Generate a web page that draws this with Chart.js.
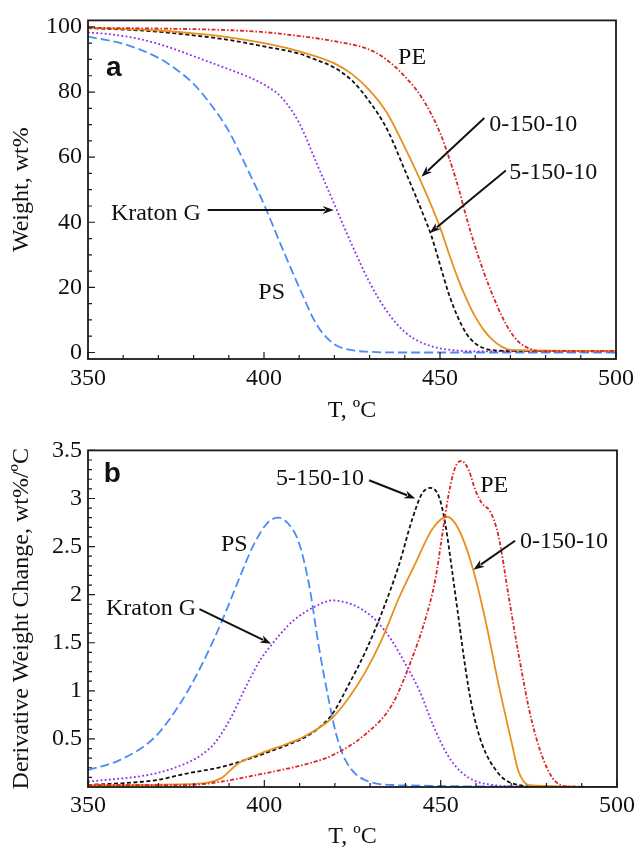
<!DOCTYPE html>
<html>
<head>
<meta charset="utf-8">
<script src="https://cdn.jsdelivr.net/npm/chart.js@4.4.1/dist/chart.umd.min.js"></script>
<style>
  body { margin: 0; background: #fff; }
  canvas { display: block; }
</style>
</head>
<body>
<canvas id="weightChart" width="639" height="430"></canvas>
<canvas id="rateChart" width="639" height="421"></canvas>
<script>
// --- tick labels ---
const tempTicks = [350, 400, 450, 500];
const weightTicks = [0, 20, 40, 60, 80, 100];
const rateTicks = [0.5, 1, 1.5, 2, 2.5, 3, 3.5];

// --- panel a: residual weight (wt%) ---
const psTempA = [350, 360, 370, 375, 380, 385, 390, 395, 400, 405, 410, 415, 420, 425, 430, 440, 500];
const psWeight = [97, 94.8, 90.5, 87, 82.5, 76, 68, 57, 45.5, 32.5, 20, 8.5, 2.5, 0.7, 0.2, 0, 0];

const kratonTempA = [350, 355, 360, 365, 370, 375, 380, 385, 390, 395, 400, 405, 410, 415, 420, 425, 430, 435, 440, 445, 450, 455, 460, 500];
const kratonWeight = [98.3, 97.9, 97.2, 96.2, 94.8, 93, 91, 89, 87, 84.9, 82.3, 78.3, 70.5, 58, 45.5, 33, 21.5, 12.5, 6.3, 2.9, 1.3, 0.6, 0.35, 0.3];

const blend5TempA = [350, 360, 370, 380, 390, 400, 410, 415, 420, 425, 430, 435, 440, 445, 447.5, 450, 452.5, 455, 457.5, 460, 462.5, 465, 470, 500];
const blend5Weight = [99.6, 99.2, 98.5, 97.4, 96, 94, 91.8, 89.8, 87.5, 83.5, 77, 68.5, 56, 43, 36, 27, 18, 11, 5.8, 2.8, 1.3, 0.7, 0.5, 0.5];

const blend0TempA = [350, 360, 370, 380, 390, 400, 410, 420, 425, 430, 435, 440, 445, 450, 452.5, 455, 457.5, 460, 462.5, 465, 467.5, 470, 500];
const blend0Weight = [99.7, 99.4, 98.9, 98, 96.8, 95, 92.5, 88.8, 85.5, 80.5, 73.5, 63, 51.5, 38.5, 30.5, 23, 16.5, 11, 6.8, 3.8, 1.8, 0.8, 0.5];

const peTempA = [350, 370, 390, 400, 410, 420, 430, 435, 440, 445, 450, 452.5, 455, 457.5, 460, 462.5, 465, 467.5, 470, 472.5, 475, 478, 500];
const peWeight = [99.7, 99.5, 99, 98.4, 97.2, 95.6, 93, 89.8, 84.8, 78, 67.5, 60, 51.5, 41.5, 32.5, 24.5, 17.5, 11.3, 6.4, 3.1, 1.4, 0.5, 0.5];

// --- panel b: derivative weight change (wt%/ºC) ---
const psTempB = [350, 359, 369, 376, 381, 386, 389.5, 393, 397, 401, 404, 408, 410, 412.7, 415.5, 418.4, 420.3, 423, 428.7, 438, 500];
const psRate = [0.175, 0.28, 0.52, 0.86, 1.18, 1.56, 1.86, 2.18, 2.52, 2.75, 2.8, 2.68, 2.52, 2.1, 1.45, 0.88, 0.56, 0.28, 0.07, 0.02, 0];

const kratonTempB = [350, 369, 378, 382, 386, 390.5, 395, 399, 402.3, 406.5, 410, 414, 419.3, 424, 428, 432, 436, 440, 444, 448, 452, 456, 460, 465, 472, 500];
const kratonRate = [0.055, 0.14, 0.25, 0.33, 0.46, 0.72, 1.06, 1.33, 1.49, 1.67, 1.78, 1.87, 1.94, 1.91, 1.84, 1.72, 1.53, 1.28, 1.0, 0.63, 0.33, 0.15, 0.06, 0.02, 0.005, 0];

const blend5TempB = [350, 369, 378, 388, 397, 404.6, 410, 414.6, 419.3, 424, 428.7, 433.4, 438.1, 441.9, 444.7, 447.1, 449.5, 451.3, 453.2, 455.1, 457, 458.9, 461.7, 466.4, 471, 480, 500];
const blend5Rate = [0.02, 0.07, 0.14, 0.21, 0.31, 0.41, 0.49, 0.59, 0.76, 1.07, 1.41, 1.82, 2.3, 2.78, 3.05, 3.11, 3.02, 2.74, 2.26, 1.75, 1.24, 0.83, 0.45, 0.14, 0.03, 0, 0];

const blend0TempB = [350, 378, 387.7, 392.4, 399, 406.5, 410, 419.3, 424, 428.7, 433.4, 438.1, 442.9, 447.6, 451.8, 455.1, 458.9, 462.6, 466.4, 470.2, 472, 475, 500];
const blend0Rate = [0.02, 0.03, 0.09, 0.24, 0.35, 0.45, 0.5, 0.72, 0.93, 1.2, 1.54, 1.96, 2.33, 2.68, 2.81, 2.68, 2.3, 1.75, 1.07, 0.45, 0.17, 0.02, 0];

const peTempB = [350, 378, 387.7, 397.1, 406.5, 410, 419.3, 428.7, 436.3, 441.9, 445.7, 448.5, 450.4, 452.3, 454.2, 455.9, 458, 459.8, 461.7, 464.1, 466.4, 469.2, 472, 475.8, 480.5, 485, 500];
const peRate = [0.02, 0.02, 0.055, 0.12, 0.19, 0.22, 0.33, 0.55, 0.86, 1.34, 1.75, 2.16, 2.61, 3.05, 3.33, 3.39, 3.29, 3.09, 2.95, 2.86, 2.61, 2.0, 1.4, 0.69, 0.17, 0.01, 0];

const SERIF = '"Liberation Serif", "Times New Roman", serif';
Chart.defaults.font.family = SERIF;
Chart.defaults.font.size = 24;
Chart.defaults.color = '#111';

const colors = {
    ps: '#4a8cf7',
    kraton: '#8e2ded',
    blend5: '#111111',
    blend0: '#e8901e',
    pe: '#de2222'
};

function series(label, temps, values, color, dash) {
    return {
        label: label,
        data: temps.map((t, i) => ({ x: t, y: values[i] })),
        borderColor: color,
        borderWidth: 1.8,
        borderDash: dash,
        pointRadius: 0,
        fill: false,
        cubicInterpolationMode: 'monotone'
    };
}

// frame box plus inward tick marks on the bottom and left axes
const framePlugin = {
    id: 'frame',
    afterDatasetsDraw(chart, args, opts) {
        const { ctx, chartArea: a, scales: { x, y } } = chart;
        ctx.save();
        ctx.strokeStyle = '#1a1a1a';
        ctx.lineWidth = 1.2;
        ctx.beginPath();
        for (let k = 0; ; k++) {
            const v = x.min + k * opts.xMinor;
            if (v > x.max + 1e-9) break;
            const px = x.getPixelForValue(v);
            const len = tempTicks.includes(v) ? 7 : 4;
            ctx.moveTo(px, a.bottom);
            ctx.lineTo(px, a.bottom - len);
        }
        for (let k = 0; ; k++) {
            const v = Math.round((opts.yFrom + k * opts.yMinor) * 1000) / 1000;
            if (v > y.max + 1e-9) break;
            const py = y.getPixelForValue(v);
            const len = opts.yMajor.includes(v) ? 7 : 4;
            ctx.moveTo(a.left, py);
            ctx.lineTo(a.left + len, py);
        }
        ctx.stroke();
        ctx.lineWidth = 1.8;
        ctx.strokeRect(a.left, a.top, a.width, a.height);
        ctx.restore();
    }
};

// curve names and arrows, placed in data coordinates
const calloutPlugin = {
    id: 'callouts',
    afterDatasetsDraw(chart, args, opts) {
        const { ctx, scales: { x, y } } = chart;
        ctx.save();
        ctx.strokeStyle = '#111';
        ctx.fillStyle = '#111';
        ctx.lineWidth = 2;
        (opts.arrows || []).forEach(([t0, v0, t1, v1]) => {
            const x0 = x.getPixelForValue(t0), y0 = y.getPixelForValue(v0);
            const x1 = x.getPixelForValue(t1), y1 = y.getPixelForValue(v1);
            const ang = Math.atan2(y1 - y0, x1 - x0);
            const hl = 11, hw = 4;
            ctx.beginPath();
            ctx.moveTo(x0, y0);
            ctx.lineTo(x1 - Math.cos(ang) * hl * 0.8, y1 - Math.sin(ang) * hl * 0.8);
            ctx.stroke();
            ctx.beginPath();
            ctx.moveTo(x1, y1);
            ctx.lineTo(x1 - Math.cos(ang) * hl - Math.sin(ang) * hw, y1 - Math.sin(ang) * hl + Math.cos(ang) * hw);
            ctx.lineTo(x1 - Math.cos(ang) * hl * 0.7, y1 - Math.sin(ang) * hl * 0.7);
            ctx.lineTo(x1 - Math.cos(ang) * hl + Math.sin(ang) * hw, y1 - Math.sin(ang) * hl - Math.cos(ang) * hw);
            ctx.closePath();
            ctx.fill();
        });
        ctx.textAlign = 'left';
        ctx.textBaseline = 'alphabetic';
        (opts.labels || []).forEach(l => {
            ctx.font = l.bold ? 'bold 28px "Liberation Sans", Arial, sans-serif' : '24px ' + SERIF;
            ctx.fillText(l.text, x.getPixelForValue(l.t), y.getPixelForValue(l.v));
        });
        ctx.restore();
    }
};

function tempAxis(height, labelPad) {
    return {
        type: 'linear',
        min: 350,
        max: 500,
        afterBuildTicks: s => { s.ticks = tempTicks.map(v => ({ value: v })); },
        afterFit: s => { s.height = height; },
        grid: { display: false, drawTicks: false },
        border: { display: false },
        ticks: { padding: labelPad, maxRotation: 0, autoSkip: false, callback: v => String(v) },
        title: { display: true, text: 'T, ºC', padding: { top: 0, bottom: height > 66 ? 5 : 0 } }
    };
}

function valueAxis(min, max, ticks, text) {
    return {
        type: 'linear',
        min: min,
        max: max,
        afterBuildTicks: s => { s.ticks = ticks.map(v => ({ value: v })); },
        afterFit: s => { s.width = 88; },
        grid: { display: false, drawTicks: false },
        border: { display: false },
        ticks: { padding: 6, autoSkip: false, callback: v => String(v) },
        title: { display: true, text: text, padding: { top: 7, bottom: 0 } }
    };
}

// --- panel a ---
new Chart(document.getElementById('weightChart'), {
    type: 'line',
    data: {
        datasets: [
            series('PE', peTempA, peWeight, colors.pe, [4, 2, 1.5, 2]),
            series('0-150-10', blend0TempA, blend0Weight, colors.blend0, []),
            series('5-150-10', blend5TempA, blend5Weight, colors.blend5, [4, 2.5]),
            series('Kraton G', kratonTempA, kratonWeight, colors.kraton, [1.8, 2.4]),
            series('PS', psTempA, psWeight, colors.ps, [9, 4])
        ]
    },
    options: {
        responsive: false,
        animation: false,
        layout: { padding: { top: 16, right: 20, left: 0, bottom: 0 } },
        scales: {
            x: tempAxis(71, 5),
            y: valueAxis(-2, 102, weightTicks, 'Weight, wt%')
        },
        plugins: {
            legend: { display: false },
            tooltip: { enabled: false },
            frame: { xMinor: 10, yMinor: 5, yFrom: 0, yMajor: weightTicks },
            callouts: {
                labels: [
                    { text: 'a', t: 355.1, v: 84.8, bold: true },
                    { text: 'PE', t: 438.1, v: 88.5 },
                    { text: '0-150-10', t: 464.0, v: 68 },
                    { text: '5-150-10', t: 469.7, v: 53.3 },
                    { text: 'Kraton G', t: 356.5, v: 40.7 },
                    { text: 'PS', t: 398.4, v: 16.5 }
                ],
                arrows: [
                    [462.6, 72, 444.7, 54],
                    [468.7, 55.9, 447.1, 36.7],
                    [384, 43.8, 419.8, 43.8]
                ]
            }
        }
    },
    plugins: [framePlugin, calloutPlugin]
});

// --- panel b ---
new Chart(document.getElementById('rateChart'), {
    type: 'line',
    data: {
        datasets: [
            series('PE', peTempB, peRate, colors.pe, [4, 2, 1.5, 2]),
            series('0-150-10', blend0TempB, blend0Rate, colors.blend0, []),
            series('5-150-10', blend5TempB, blend5Rate, colors.blend5, [4, 2.5]),
            series('Kraton G', kratonTempB, kratonRate, colors.kraton, [1.8, 2.4]),
            series('PS', psTempB, psRate, colors.ps, [9, 4])
        ]
    },
    options: {
        responsive: false,
        animation: false,
        layout: { padding: { top: 16.5, right: 20, left: 0, bottom: 0 } },
        scales: {
            x: tempAxis(64, 4),
            y: valueAxis(0, 3.5, rateTicks, 'Derivative Weight Change, wt%/ºC')
        },
        plugins: {
            legend: { display: false },
            tooltip: { enabled: false },
            frame: { xMinor: 10, yMinor: 0.1, yFrom: 0.1, yMajor: rateTicks },
            callouts: {
                labels: [
                    { text: 'b', t: 354.5, v: 3.176, bold: true },
                    { text: '5-150-10', t: 403.3, v: 3.14 },
                    { text: 'PE', t: 461.2, v: 3.07 },
                    { text: '0-150-10', t: 472.5, v: 2.49 },
                    { text: 'PS', t: 387.7, v: 2.45 },
                    { text: 'Kraton G', t: 355.1, v: 1.79 }
                ],
                arrows: [
                    [429.7, 3.19, 442.8, 3.0],
                    [471.1, 2.56, 459.3, 2.26],
                    [381.6, 1.85, 401.9, 1.49]
                ]
            }
        }
    },
    plugins: [framePlugin, calloutPlugin]
});
</script>
</body>
</html>
